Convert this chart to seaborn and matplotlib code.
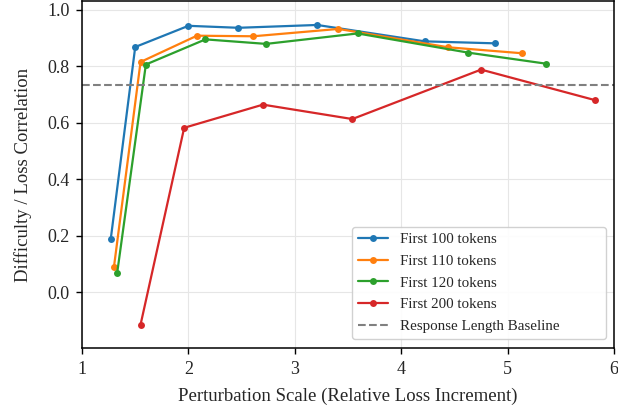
import matplotlib
matplotlib.use("Agg")
import matplotlib.pyplot as plt
import seaborn as sns
import pandas as pd

# values
x_100 = [1.27, 1.50, 2.00, 2.47, 3.21, 4.22, 4.88]
y_100 = [0.188, 0.868, 0.943, 0.936, 0.946, 0.888, 0.881]
x_110 = [1.30, 1.55, 2.08, 2.61, 3.41, 4.44, 5.13]
y_110 = [0.089, 0.815, 0.908, 0.906, 0.932, 0.867, 0.846]
x_120 = [1.33, 1.60, 2.16, 2.73, 3.59, 4.63, 5.36]
y_120 = [0.067, 0.806, 0.895, 0.879, 0.916, 0.848, 0.809]
x_200 = [1.55, 1.96, 2.70, 3.54, 4.75, 5.82]
y_200 = [-0.115, 0.582, 0.664, 0.613, 0.788, 0.680]
labels = ["First 100 tokens", "First 110 tokens", "First 120 tokens", "First 200 tokens"]
baseline = 0.733

sns.set_theme(style="whitegrid")
plt.rcParams["font.family"] = ["Liberation Serif", "DejaVu Serif"]

frames = []
for lab, xs, ys in zip(labels, [x_100, x_110, x_120, x_200], [y_100, y_110, y_120, y_200]):
    frames.append(pd.DataFrame({"x": xs, "y": ys, "series": lab}))
df = pd.concat(frames, ignore_index=True)

fig = plt.figure(figsize=(6.18, 4.13), dpi=100)
ax = fig.add_axes([0.1327, 0.157, 0.861, 0.84])
palette = ["#1f77b4", "#ff7f0e", "#2ca02c", "#d62728"]
sns.lineplot(data=df, x="x", y="y", hue="series", palette=palette, marker="o",
             markersize=5, markeredgewidth=0, linewidth=1.6, sort=False,
             estimator=None, ax=ax)
ax.axhline(baseline, color="gray", linestyle="--", linewidth=1.5,
           label="Response Length Baseline")

ax.set_xlim(1, 6)
ax.set_ylim(-0.198, 1.03)
ax.set_yticks([0.0, 0.2, 0.4, 0.6, 0.8, 1.0])
ax.set_xlabel("Perturbation Scale (Relative Loss Increment)", fontsize=13.5, labelpad=7)
ax.set_ylabel("Difficulty / Loss Correlation", fontsize=13.5, labelpad=11)
ax.tick_params(axis="both", labelsize=13, direction="out", length=4, width=1,
               pad=5, color="black", bottom=True, left=True)
ax.grid(color="#e6e6e6", linewidth=0.8)
for s in ax.spines.values():
    s.set_color("black")
    s.set_linewidth(1.1)

# legend box is wider than its text in the reference
ax.legend(loc="lower left", bbox_to_anchor=(0.507, 0.026, 0.478, 0.3),
          mode="expand", borderaxespad=0, fontsize=10.8, labelspacing=0.55,
          frameon=True, framealpha=0.9, edgecolor="#cccccc", title=None)

fig.savefig("out.png", dpi=100)
